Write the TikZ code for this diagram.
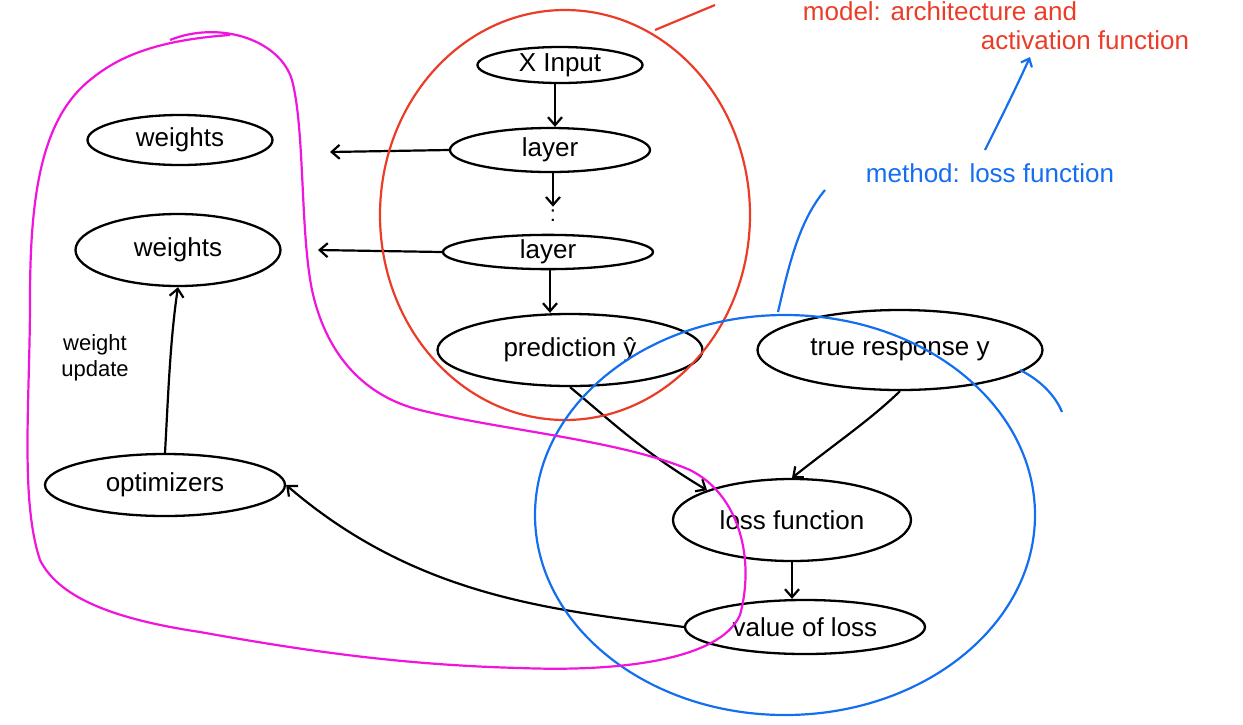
\documentclass[tikz,border=0pt]{standalone}
\usepackage{fontspec}
\setmainfont{Liberation Sans}
\usetikzlibrary{shapes.geometric,arrows.meta}
\definecolor{hred}{RGB}{235,60,40}
\definecolor{hblue}{RGB}{20,110,240}
\definecolor{hmag}{RGB}{240,20,220}
\begin{document}
\begin{tikzpicture}[x=1pt,y=-1pt,
  el/.style={draw,ellipse,line width=2.3pt,inner sep=0pt,font=\fontsize{26}{28}\selectfont},
  arr/.style={line width=2.2pt,-{Straight Barb[length=8pt,width=14pt]}},
  loop/.style={line width=2.2pt}]
\useasboundingbox (0,0) rectangle (1243,724);
% nodes
\node[el,minimum width=165pt,minimum height=36pt] (xin) at (560,65) {X Input};
\node[el,minimum width=200pt,minimum height=44pt] (l1) at (550,150) {layer};
\node[el,minimum width=210pt,minimum height=34pt] (l2) at (548,252) {layer};
\node[el,minimum width=265pt,minimum height=72pt] (pred) at (570,350) {prediction ŷ};
\node[el,minimum width=285pt,minimum height=80pt] (true) at (900,350) {true response y};
\node[el,minimum width=238pt,minimum height=82pt] (loss) at (792,520) {loss function};
\node[el,minimum width=240pt,minimum height=54pt] (val) at (805,627) {value of loss};
\node[el,minimum width=185pt,minimum height=50pt] (w1) at (180,140) {weights};
\node[el,minimum width=205pt,minimum height=72pt] (w2) at (178,250) {weights};
\node[el,minimum width=240pt,minimum height=62pt] (opt) at (165,485) {optimizers};
\node[font=\fontsize{22}{26}\selectfont,align=center] (wu) at (95,358) {weight\\update};
\node[font=\fontsize{22}{22}\selectfont] (dots) at (553,216) {:};
% coordinates
\coordinate (w1e) at (330,152);
\coordinate (w2e) at (318,250);
% arrows
\draw[arr] (xin.south -| 555,0) -- (l1.north -| 555,0);
\draw[arr] (l1.west) -- (w1e);
\draw[arr] (l1.south -| 553,0) -- (dots.north);
\draw[arr] (l2.west) -- (w2e);
\draw[arr] (l2.south -| 550,0) -- (pred.north -| 550,0);
\draw[arr] (pred.south) .. controls (610,420) and (640,450) .. (loss.north west);
\draw[arr] (true.south) .. controls (870,420) and (840,440) .. (loss.north);
\draw[arr] (loss.south) -- (val.north -| loss.south);
\draw[arr] (val.west) .. controls (560,610) and (420,600) .. (opt.east);
\draw[arr] (opt.north) .. controls (168,400) and (170,340) .. (w2.south);
% red circle
\draw[hred,loop] (565,215) ellipse [x radius=185, y radius=205];
\draw[hred,loop] (655,30) -- (715,5);
\node[hred,font=\fontsize{26}{28}\selectfont,anchor=north,inner sep=1pt] (mtxt) at (940,0) {model: architecture and};
\node[hred,font=\fontsize{26}{28}\selectfont] (atxt) at (1085,40) {activation function};
% blue
\node[hblue,font=\fontsize{26}{28}\selectfont] (btxt) at (990,173) {method: loss function};
\draw[hblue,loop] (785,515) ellipse [x radius=250, y radius=200];
\draw[hblue,loop] (778,312) .. controls (790,260) and (800,220) .. (825,190);
\draw[hblue,line width=2.2pt,-{Straight Barb[length=7pt,width=12pt]}] (985,150) .. controls (1000,120) and (1015,90) .. (1030,57);
\draw[hblue,loop] (1020,370) .. controls (1040,380) and (1055,395) .. (1062,412);
% magenta loop
\draw[hmag,loop] (170,40) .. controls (220,20) and (280,40) .. (292,80)
  .. controls (305,130) and (300,230) .. (312,290)
  .. controls (325,350) and (360,395) .. (420,410)
  .. controls (500,430) and (620,440) .. (690,470)
  .. controls (740,495) and (755,560) .. (740,615)
  .. controls (720,660) and (620,672) .. (520,668)
  .. controls (400,665) and (300,650) .. (200,632)
  .. controls (120,620) and (60,600) .. (40,560)
  .. controls (20,500) and (30,400) .. (30,300)
  .. controls (30,200) and (40,120) .. (90,80)
  .. controls (120,55) and (160,40) .. (230,35);
\end{tikzpicture}
\end{document}
